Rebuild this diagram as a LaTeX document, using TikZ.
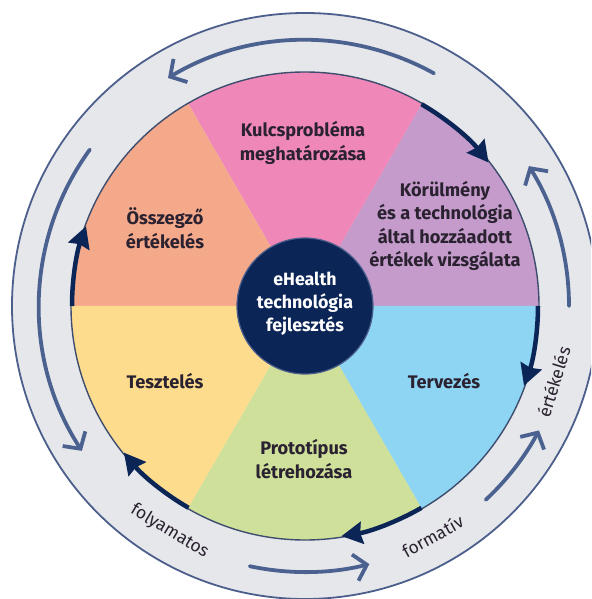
\documentclass[tikz,border=0pt]{standalone}
\usepackage{fontspec}
\setmainfont{Fira Sans}
\usetikzlibrary{arrows.meta}
\definecolor{ringgray}{HTML}{E6E7EB}
\definecolor{outerline}{HTML}{4C5F8C}
\definecolor{lightarrow}{HTML}{4B6290}
\definecolor{navy}{HTML}{0C2557}
\definecolor{pieline}{HTML}{3E4D6E}
\definecolor{txt}{HTML}{2A2230}
\definecolor{cpink}{HTML}{EF88B8}
\definecolor{clav}{HTML}{C49BCB}
\definecolor{cblue}{HTML}{8ED4F3}
\definecolor{cgreen}{HTML}{CFE09B}
\definecolor{cyellow}{HTML}{FDDD8D}
\definecolor{csalmon}{HTML}{F5A98B}
\begin{document}
\begin{tikzpicture}[x=1pt,y=1pt,
  lbl/.style={align=center, text=txt, inner sep=1pt, font=\bfseries\fontsize{18.2}{23.5}\selectfont},
  ctr/.style={align=center, text=white, inner sep=1pt, font=\bfseries\fontsize{17.8}{23}\selectfont},
  darkarrow/.style={draw=navy, line width=4.5pt, -{Stealth[length=21pt,width=22pt,inset=2pt]}},
  lightarr/.style={draw=lightarrow, line width=3.8pt, line cap=round, -{Straight Barb[length=12pt,width=27pt,line width=3.8pt]}},
  ringlbl/.style={text=txt, inner sep=1pt, font=\fontsize{17.5}{17.5}\selectfont}
]
\useasboundingbox (-305,306) rectangle (286,-293);
\clip (-305,306) rectangle (286,-293);
\fill[white] (-305,306) rectangle (286,-293);
% outer ring
\filldraw[fill=ringgray, draw=outerline, line width=1.8pt] (0,0) circle[radius=293];
% sectors
\fill[clav]    (0,0) -- (0:234) arc[start angle=0, end angle=60, radius=234] -- cycle;
\fill[cpink]   (0,0) -- (60:234) arc[start angle=60, end angle=120, radius=234] -- cycle;
\fill[csalmon] (0,0) -- (120:234) arc[start angle=120, end angle=180, radius=234] -- cycle;
\fill[cyellow] (0,0) -- (180:234) arc[start angle=180, end angle=240, radius=234] -- cycle;
\fill[cgreen]  (0,0) -- (240:234) arc[start angle=240, end angle=300, radius=234] -- cycle;
\fill[cblue]   (0,0) -- (300:234) arc[start angle=300, end angle=360, radius=234] -- cycle;
\draw[pieline, line width=1.4pt] (0,0) circle[radius=234];
% centre
\filldraw[fill=navy, draw=outerline, line width=1.2pt] (0,0) circle[radius=68];
\node[ctr] (center) at (0,2) {eHealth\\technológia\\fejlesztés};
% sector labels
\node[lbl] (kulcs) at (-2,163) {Kulcsprobléma\\meghatározása};
\node[lbl] (korul) at (140,80) {Körülmény\\és a technológia\\által hozzáadott\\értékek vizsgálata};
\node[lbl] (tervez) at (139,-75) {Tervezés};
\node[lbl] (proto) at (-1,-153) {Prototípus\\létrehozása};
\node[lbl] (teszt) at (-140,-75) {Tesztelés};
\node[lbl] (osszeg) at (-140,78) {Összegző\\értékelés};
% dark arrows on the pie edge (clockwise)
\draw[darkarrow] (60:233) arc[start angle=60, end angle=38, radius=233];
\draw[darkarrow] (0:233) arc[start angle=0, end angle=-20, radius=233];
\draw[darkarrow] (-60:233) arc[start angle=-60, end angle=-81, radius=233];
\draw[darkarrow] (240:233) arc[start angle=240, end angle=219, radius=233];
\draw[darkarrow] (180:233) arc[start angle=180, end angle=160, radius=233];
% light arrows in the ring (counter-clockwise)
\draw[lightarr] (61:266) arc[start angle=61, end angle=121, radius=266];
\draw[lightarr] (144:266) arc[start angle=144, end angle=213, radius=266];
\draw[lightarr] (258:266) arc[start angle=258, end angle=284, radius=266];
\draw[lightarr] (313:265) arc[start angle=313, end angle=332, radius=265];
\draw[lightarr] (0:264) arc[start angle=0, end angle=32, radius=264];
% ring texts
\node[ringlbl, rotate=329] (folyam) at (239:263) {folyamatos};
\node[ringlbl, rotate=29] (format) at (299:263) {formatív};
\node[ringlbl, rotate=73] (ertek) at (343:260) {értékelés};
\end{tikzpicture}
\end{document}
